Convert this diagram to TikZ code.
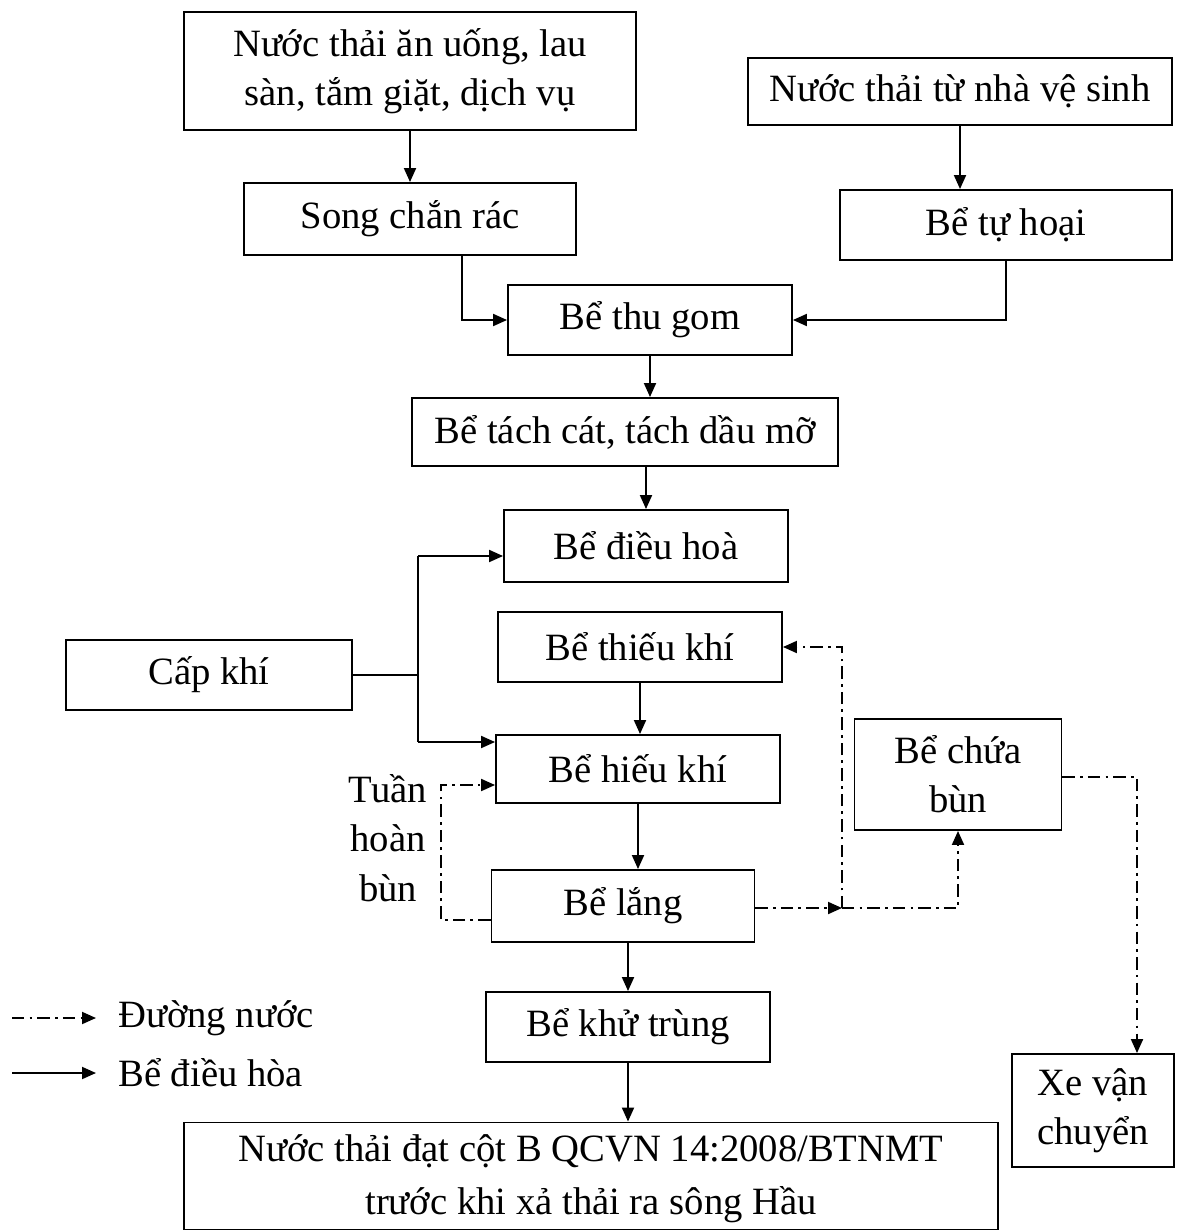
\documentclass[tikz,border=0pt]{standalone}
\usepackage{fontspec}
\setmainfont{Liberation Serif}
\usetikzlibrary{arrows.meta}
\tikzset{
 box/.style={draw, line width=1.1pt, rectangle, inner sep=2pt, align=center, font=\fontsize{22}{28}\selectfont},
 ln/.style={line width=1.1pt},
 arr/.style={line width=1.1pt, -{Triangle[length=0.28cm,width=0.24cm]}},
 dd/.style={line width=1.1pt, dash pattern=on 7pt off 3pt on 1.5pt off 3pt},
 ddarr/.style={dd, -{Triangle[length=0.28cm,width=0.24cm]}},
 lbl/.style={align=center, font=\fontsize{22}{28}\selectfont, inner sep=0pt},
}
\begin{document}
\begin{tikzpicture}[x=0.02cm,y=-0.02cm]
\useasboundingbox (0,0) rectangle (1176,1230);
% boxes
\node[box, minimum width=9.04cm, minimum height=2.36cm] (b1) at (410,71) {Nước thải ăn uống, lau\\sàn, tắm giặt, dịch vụ};
\node[box, minimum width=8.48cm, minimum height=1.34cm] (b2) at (960,91.5) {Nước thải từ nhà vệ sinh};
\node[box, minimum width=6.64cm, minimum height=1.44cm] (song) at (410,219) {Song chắn rác};
\node[box, minimum width=6.64cm, minimum height=1.40cm] (tuhoai) at (1006,225) {Bể tự hoại};
\node[box, minimum width=5.68cm, minimum height=1.40cm] (thugom) at (650,320) {Bể thu gom};
\node[box, minimum width=8.52cm, minimum height=1.36cm] (tachcat) at (625,432) {Bể tách cát, tách dầu mỡ};
\node[box, minimum width=5.68cm, minimum height=1.44cm] (dieuhoa) at (646,546) {Bể điều hoà};
\node[box, minimum width=5.72cm, minimum height=1.40cm] (capkhi) at (209,675) {Cấp khí};
\node[box, minimum width=5.68cm, minimum height=1.40cm] (thieukhi) at (640,647) {Bể thiếu khí};
\node[box, minimum width=5.68cm, minimum height=1.36cm] (hieukhi) at (638,769) {Bể hiếu khí};
\node[box, minimum width=5.26cm, minimum height=1.44cm] (lang) at (623,906) {Bể lắng};
\node[box, minimum width=4.14cm, minimum height=2.22cm] (chuabun) at (958,774.5) {Bể chứa\\bùn};
\node[box, minimum width=3.24cm, minimum height=2.26cm] (xe) at (1093,1110.5) {Xe vận\\chuyển};
\node[box, minimum width=5.68cm, minimum height=1.40cm] (khutrung) at (628,1027) {Bể khử trùng};
\node[box, minimum width=16.30cm, minimum height=2.14cm, font=\fontsize{22}{30}\selectfont, text depth=2pt] (final) at (591,1176) {Nước thải đạt cột B QCVN 14:2008/BTNMT\\trước khi xả thải ra sông Hầu};
\node[lbl] (th) at (388,838) {Tuần\\hoàn\\bùn};
% helper coordinates
\coordinate (cs) at (462,300);
\coordinate (kj) at (418,675);
\coordinate (kt) at (418,556);
\coordinate (kb) at (418,742);
\coordinate (rc1) at (441,920);
\coordinate (rc2) at (441,785);
\coordinate (jn) at (842,908);
\coordinate (cb) at (1137,777);
% solid connectors
\draw[arr] (b1.south) -- (song.north);
\draw[arr] (b2.south) -- (b2.south |- tuhoai.north);
\draw[arr] (song.south -| cs) |- (thugom.west);
\draw[arr] (tuhoai.south) |- (thugom.east);
\draw[arr] (thugom.south) -- (thugom.south |- tachcat.north);
\draw[arr] (dieuhoa.north |- tachcat.south) -- (dieuhoa.north);
\draw[ln] (capkhi.east) -- (kj);
\draw[ln] (kt) -- (kb);
\draw[arr] (kt) -- (kt -| dieuhoa.west);
\draw[arr] (kb) -- (kb -| hieukhi.west);
\draw[arr] (thieukhi.south) -- (thieukhi.south |- hieukhi.north);
\draw[arr] (hieukhi.south) -- (hieukhi.south |- lang.north);
\draw[arr] (khutrung.north |- lang.south) -- (khutrung.north);
\draw[arr] (khutrung.south) -- (khutrung.south |- final.north);
% dash-dot connectors
\draw[ddarr] (lang.west |- rc1) -- (rc1) -- (rc2) -- (rc2 -| hieukhi.west);
\draw[ddarr] (lang.east |- jn) -- (jn);
\draw[ddarr] (jn) -| (chuabun.south);
\draw[ddarr] (jn) |- (thieukhi.east);
\draw[ddarr] (chuabun.east |- cb) -| (xe.north -| cb);
% legend
\coordinate (l1a) at (12,1018);
\coordinate (l1b) at (96,1018);
\coordinate (l2a) at (12,1073);
\coordinate (l2b) at (96,1073);
\draw[ddarr] (l1a) -- (l1b);
\draw[arr] (l2a) -- (l2b);
\node[lbl, anchor=west] (lg1) at (118,1018) {Đường nước};
\node[lbl, anchor=west] (lg2) at (118,1073) {Bể điều hòa};
\end{tikzpicture}
\end{document}
